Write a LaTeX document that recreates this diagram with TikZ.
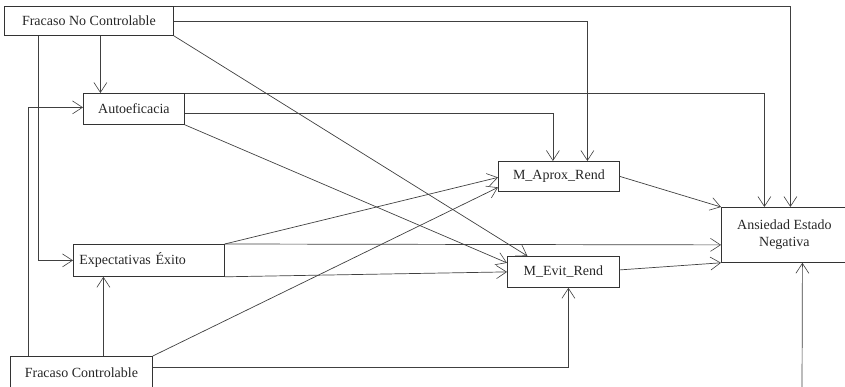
\documentclass[tikz,border=0pt]{standalone}
\usepackage{fontspec}
\setmainfont{Liberation Serif}
\usetikzlibrary{arrows.meta}
\begin{document}
\begin{tikzpicture}[x=1pt,y=-1pt,
  box/.style={draw=black!80,line width=0.8pt,anchor=north west,inner sep=0pt,
    font=\fontsize{14}{17}\selectfont,text=black!85},
  arr/.style={draw=black!75,line width=0.7pt,-{Straight Barb[length=10pt,width=13pt,line width=0.6pt]}},
  ln/.style={draw=black!75,line width=0.7pt}]
\clip (0,0) rectangle (845,387);
\node[box,minimum width=169pt,minimum height=29pt] (fnc) at (4,6) {Fracaso No Controlable};
\node[box,minimum width=101pt,minimum height=31pt] (auto) at (83,93) {Autoeficacia};
\node[box,minimum width=151pt,minimum height=32pt,align=left,text width=141pt] (exp) at (73,244) {\hspace*{1pt}Expectativas Éxito};
\node[box,minimum width=142pt,minimum height=32pt] (fc) at (10,356) {Fracaso Controlable};
\node[box,minimum width=121pt,minimum height=30pt] (aprox) at (498,161) {M\_Aprox\_Rend};
\node[box,minimum width=112pt,minimum height=31pt] (evit) at (507,256) {M\_Evit\_Rend};
\node[box,minimum width=126pt,minimum height=55pt,align=center] (ans) at (721,207) {Ansiedad Estado\\Negativa};
\coordinate (bot) at (802,392);
% connectors
\draw[arr] (fnc.north east) -| ([xshift=6pt]ans.north);
\draw[arr] (fnc.east) -| ([xshift=28.5pt]aprox.north);
\draw[arr] (auto.north east) -| ([xshift=-20pt]ans.north);
\draw[arr] ([yshift=-4.5pt]auto.east) -| ([xshift=-6pt]aprox.north);
\draw[arr] (fnc.south east) -- ([xshift=-36pt]evit.north);
\draw[arr] (auto.south east) -- ([yshift=9pt]evit.west);
\draw[arr] ([xshift=-50.5pt]fnc.south) |- (exp.west);
\draw[arr] ([xshift=11.5pt]fnc.south) -- ([xshift=11.5pt]fnc.south |- auto.north);
\draw[arr] ([xshift=-53pt]fc.north) |- ([yshift=1.5pt]auto.west);
\draw[arr] ([xshift=22pt]fc.north) -- ([xshift=22pt]fc.north |- exp.south);
\draw[arr] (fc.north east) -- ([yshift=-11pt]aprox.west);
\draw[arr] ([yshift=5pt]fc.east) -| ([xshift=5pt]evit.south);
\draw[arr] (exp.north east) -- ([yshift=-1pt]aprox.west);
\draw[arr] (exp.north east) -- ([yshift=-10pt]ans.west);
\draw[arr] (exp.south east) -- (evit.west);
\draw[arr] (aprox.east) -- (ans.north west);
\draw[arr] ([yshift=2pt]evit.east) -- (ans.south west);
\draw[arr] (bot) -- ([xshift=18pt]ans.south);
\end{tikzpicture}
\end{document}
